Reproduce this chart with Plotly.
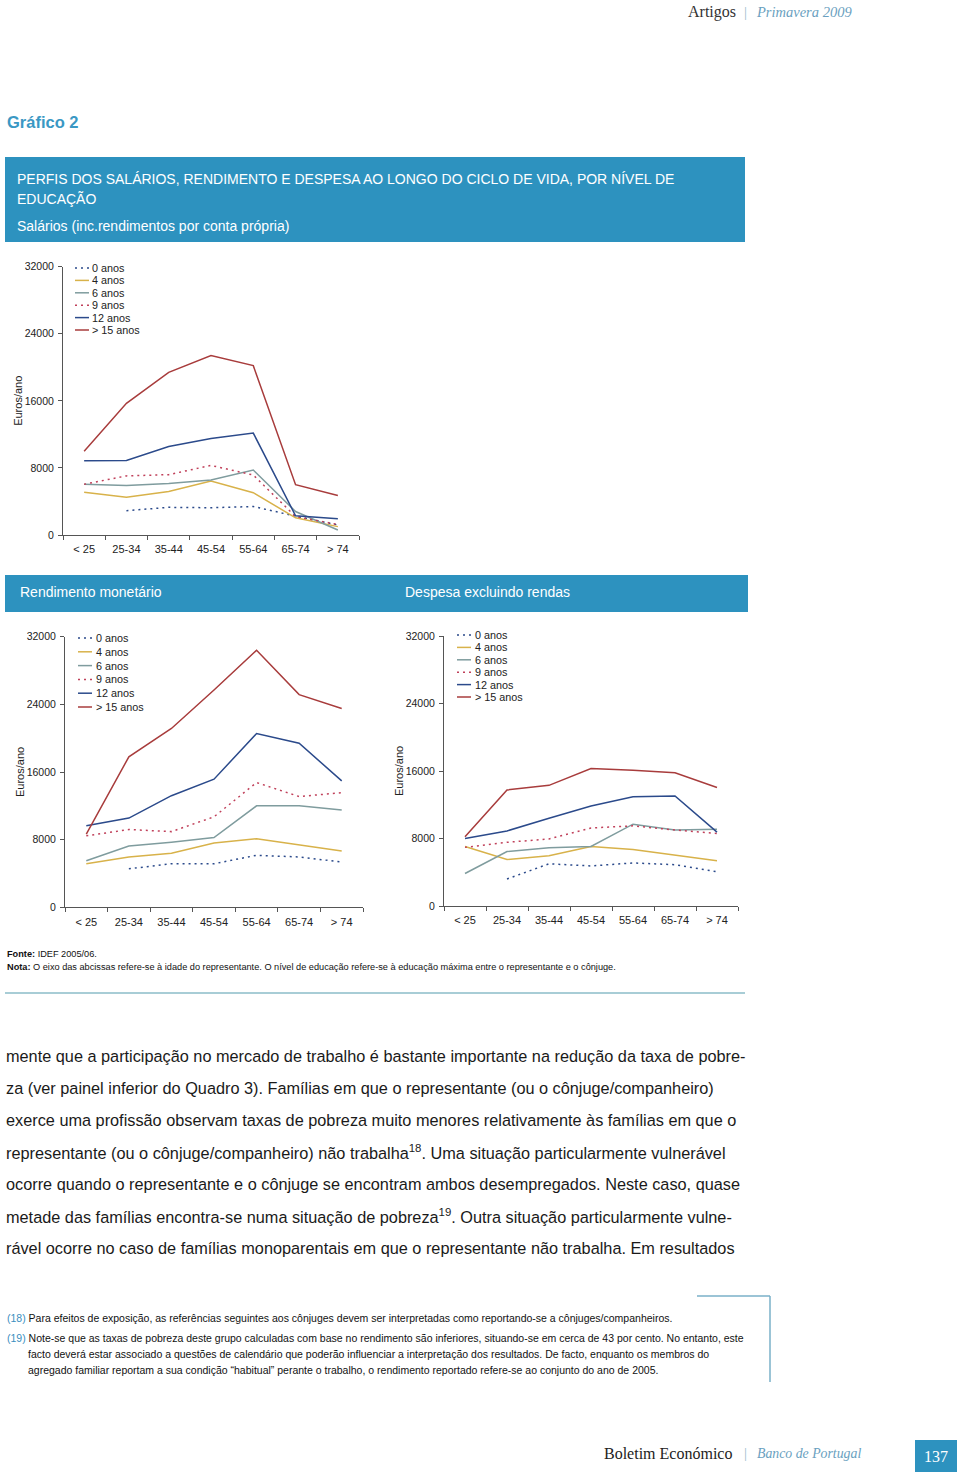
import plotly.graph_objects as go

W, H = 960, 1475

categories = ["< 25", "25-34", "35-44", "45-54", "55-64", "65-74", "> 74"]
series_names = ["0 anos", "4 anos", "6 anos", "9 anos", "12 anos", "> 15 anos"]
y_ticks = [0, 8000, 16000, 24000, 32000]

# Salários (inc. rendimentos por conta própria)
sal_0 = [None, 2900, 3300, 3250, 3400, 2250, 1200]
sal_4 = [5100, 4500, 5200, 6450, 5050, 2050, 1000]
sal_6 = [6050, 5900, 6150, 6550, 7750, 2800, 600]
sal_9 = [6050, 7050, 7200, 8300, 7150, 2200, 1250]
sal_12 = [8850, 8900, 10550, 11500, 12150, 2300, 1950]
sal_15 = [10000, 15700, 19400, 21400, 20200, 6000, 4700]

# Rendimento monetário
ren_0 = [None, 4550, 5150, 5150, 6150, 5950, 5350]
ren_4 = [5150, 5950, 6400, 7600, 8100, 7350, 6650]
ren_6 = [5500, 7250, 7700, 8250, 12000, 12000, 11500]
ren_9 = [8450, 9200, 8950, 10700, 14750, 13100, 13550]
ren_12 = [9650, 10550, 13200, 15150, 20550, 19400, 14950]
ren_15 = [8650, 17800, 21150, 25700, 30400, 25150, 23500]

# Despesa excluindo rendas
des_0 = [None, 3200, 5000, 4750, 5100, 4900, 4050]
des_4 = [7050, 5500, 5950, 7050, 6700, 6000, 5350]
des_6 = [3850, 6450, 6900, 7050, 9700, 9000, 9100]
des_9 = [6950, 7550, 7950, 9250, 9500, 9000, 8600]
des_12 = [8000, 8900, 10400, 11850, 12950, 13050, 8750]
des_15 = [8200, 13750, 14300, 16300, 16100, 15800, 14050]

colors = ["#2b4a8b", "#d8b24a", "#7f9c9e", "#c0405a", "#2b4a8b", "#a83c3c"]
dashes = ["2px,4px", "solid", "solid", "2px,4px", "solid", "solid"]

panels = [
    [sal_0, sal_4, sal_6, sal_9, sal_12, sal_15],
    [ren_0, ren_4, ren_6, ren_9, ren_12, ren_15],
    [des_0, des_4, des_6, des_9, des_12, des_15],
]

def px(x):
    return x / W

def py(y):
    return 1 - y / H

# plot areas in page pixels: (x0, x1, ytop, ybottom)
areas = [(63, 359, 266.7, 535), (65, 363, 636.7, 907.3), (444, 738, 636, 906)]
# legend positions: (line x0, line x1, text x, first y, step)
legends = [(75, 89, 90, 268, 12.4), (78, 92, 94, 638, 13.8), (457, 471, 473, 635, 12.4)]

FONT = "Liberation Sans, Arial, sans-serif"
SERIF = "Liberation Serif, DejaVu Serif, serif"

fig = go.Figure()
layout = dict(
    width=W, height=H, margin=dict(l=0, r=0, t=0, b=0, pad=0, autoexpand=False),
    paper_bgcolor="white", plot_bgcolor="white", showlegend=False,
)
shapes = []
annotations = []

for i, (data, area, leg) in enumerate(zip(panels, areas, legends)):
    suffix = "" if i == 0 else str(i + 1)
    for name, vals, c, d in zip(series_names, data, colors, dashes):
        fig.add_trace(go.Scatter(
            x=categories, y=vals, name=name, mode="lines",
            line=dict(color=c, width=1.5, dash=d),
            xaxis="x" + suffix, yaxis="y" + suffix, hoverinfo="skip",
        ))
    x0, x1, yt, yb = area
    layout["xaxis" + suffix] = dict(
        domain=[px(x0), px(x1)], anchor="y" + suffix, type="category",
        range=[-0.5, 6.5], showgrid=False, zeroline=False, automargin=False,
        showline=True, linecolor="#555", linewidth=1,
        ticks="outside", tickson="boundaries", ticklen=4, tickcolor="#555",
        ticklabelstandoff=4,
        tickfont=dict(family=FONT, size=11, color="#222"),
        fixedrange=True,
    )
    layout["yaxis" + suffix] = dict(
        domain=[py(yb), py(yt)], anchor="x" + suffix, automargin=False,
        range=[0, 32000], tickvals=y_ticks, ticktext=[str(v) for v in y_ticks],
        showgrid=False, zeroline=False, showline=True, linecolor="#555", linewidth=1,
        ticks="outside", ticklen=4, tickcolor="#555", ticklabelstandoff=2,
        tickfont=dict(family=FONT, size=10.5, color="#222"),
        fixedrange=True,
    )
    # y axis title
    annotations.append(dict(
        x=px(x0 - 45), y=py((yt + yb) / 2), xref="paper", yref="paper",
        text="Euros/ano", textangle=-90, showarrow=False,
        font=dict(family=FONT, size=11, color="#222"),
        xanchor="center", yanchor="middle",
    ))
    # legend
    lx0, lx1, tx, ly, step = leg
    for k, (name, c, d) in enumerate(zip(series_names, colors, dashes)):
        yy = ly + k * step
        shapes.append(dict(
            type="line", xref="paper", yref="paper",
            x0=px(lx0), x1=px(lx1), y0=py(yy), y1=py(yy),
            line=dict(color=c, width=1.5, dash=d),
        ))
        annotations.append(dict(
            x=px(tx), y=py(yy), xref="paper", yref="paper", text=name,
            showarrow=False, xanchor="left", yanchor="middle",
            font=dict(family=FONT, size=10.8, color="#222"),
        ))

BLUE = "#2d92bf"

# title boxes
shapes.append(dict(type="rect", xref="paper", yref="paper",
                   x0=px(5), x1=px(745), y0=py(242), y1=py(157),
                   fillcolor=BLUE, line=dict(width=0), layer="below"))
shapes.append(dict(type="rect", xref="paper", yref="paper",
                   x0=px(5), x1=px(748), y0=py(612), y1=py(575),
                   fillcolor=BLUE, line=dict(width=0), layer="below"))

def text(x, y, s, size, color="#222", family=FONT, anchor="left"):
    if anchor == "left":
        x -= 2
    annotations.append(dict(
        x=px(x), y=py(y), xref="paper", yref="paper", text=s, showarrow=False,
        xanchor=anchor, yanchor="middle", font=dict(family=family, size=size, color=color),
    ))

# header
text(688, 12, "Artigos", 16, "#333", SERIF)
text(745, 12, "|", 15, "#9bbccc", SERIF, "center")
text(756, 12, "<i>Primavera 2009</i>", 14.5, "#6a9fc0", SERIF)

text(7, 122, "<b>Gráfico 2</b>", 16.5, "#3a98c4")

text(17, 179, "PERFIS DOS SALÁRIOS, RENDIMENTO E DESPESA AO LONGO DO CICLO DE VIDA, POR NÍVEL DE", 14, "white")
text(17, 199, "EDUCAÇÃO", 14, "white")
text(17, 226, "Salários (inc.rendimentos por conta própria)", 14, "white")
text(20, 592, "Rendimento monetário", 14, "white")
text(405, 592, "Despesa excluindo rendas", 14, "white")

# source / note
text(7, 954, "<b>Fonte:</b> IDEF 2005/06.", 9.2, "#111")
text(7, 967, "<b>Nota:</b> O eixo das abcissas refere-se à idade do representante. O nível de educação refere-se à educação máxima entre o representante e o cônjuge.", 9.2, "#111")
shapes.append(dict(type="line", xref="paper", yref="paper",
                   x0=px(5), x1=px(745), y0=py(993), y1=py(993),
                   line=dict(color="#8bbcc8", width=1.5)))

body = [
    "mente que a participação no mercado de trabalho é bastante importante na redução da taxa de pobre-",
    "za (ver painel inferior do Quadro 3). Famílias em que o representante (ou o cônjuge/companheiro)",
    "exerce uma profissão observam taxas de pobreza muito menores relativamente às famílias em que o",
    "representante (ou o cônjuge/companheiro) não trabalha<sup>18</sup>. Uma situação particularmente vulnerável",
    "ocorre quando o representante e o cônjuge se encontram ambos desempregados. Neste caso, quase",
    "metade das famílias encontra-se numa situação de pobreza<sup>19</sup>. Outra situação particularmente vulne-",
    "rável ocorre no caso de famílias monoparentais em que o representante não trabalha. Em resultados",
]
for k, line in enumerate(body):
    text(6, 1056 + 32 * k, line, 16.3, "#1a1a1a")

# footnote box lines
shapes.append(dict(type="line", xref="paper", yref="paper",
                   x0=px(697), x1=px(770), y0=py(1296), y1=py(1296),
                   line=dict(color="#7ab0c8", width=1.5)))
shapes.append(dict(type="line", xref="paper", yref="paper",
                   x0=px(770), x1=px(770), y0=py(1296), y1=py(1382),
                   line=dict(color="#7ab0c8", width=1.5)))

FN_BLUE = "#3a8fc0"
FN = 10.5
text(7, 1318, f"<span style='color:{FN_BLUE}'>(18)</span> Para efeitos de exposição, as referências seguintes aos cônjuges devem ser interpretadas como reportando-se a cônjuges/companheiros.", FN, "#111")
text(7, 1338, f"<span style='color:{FN_BLUE}'>(19)</span> Note-se que as taxas de pobreza deste grupo calculadas com base no rendimento são inferiores, situando-se em cerca de 43 por cento. No entanto, este", FN, "#111")
text(28, 1354, "facto deverá estar associado a questões de calendário que poderão influenciar a interpretação dos resultados. De facto, enquanto os membros do", FN, "#111")
text(28, 1370, "agregado familiar reportam a sua condição “habitual” perante o trabalho, o rendimento reportado refere-se ao conjunto do ano de 2005.", FN, "#111")

# footer
text(604, 1453, "Boletim Económico", 16, "#222", SERIF)
text(745, 1453, "|", 15, "#9bbccc", SERIF, "center")
text(757, 1453, "<i>Banco de Portugal</i>", 13.8, "#6a9fc0", SERIF)
shapes.append(dict(type="rect", xref="paper", yref="paper",
                   x0=px(915), x1=px(957), y0=py(1472), y1=py(1440),
                   fillcolor=BLUE, line=dict(width=0)))
text(936, 1456, "137", 16, "white", SERIF, "center")

layout["shapes"] = shapes
layout["annotations"] = annotations
fig.update_layout(**layout)
fig.write_html(
    "out.html",
    config={"displayModeBar": False},
    post_script="document.body.style.margin='0px';document.body.style.overflow='hidden';",
)
